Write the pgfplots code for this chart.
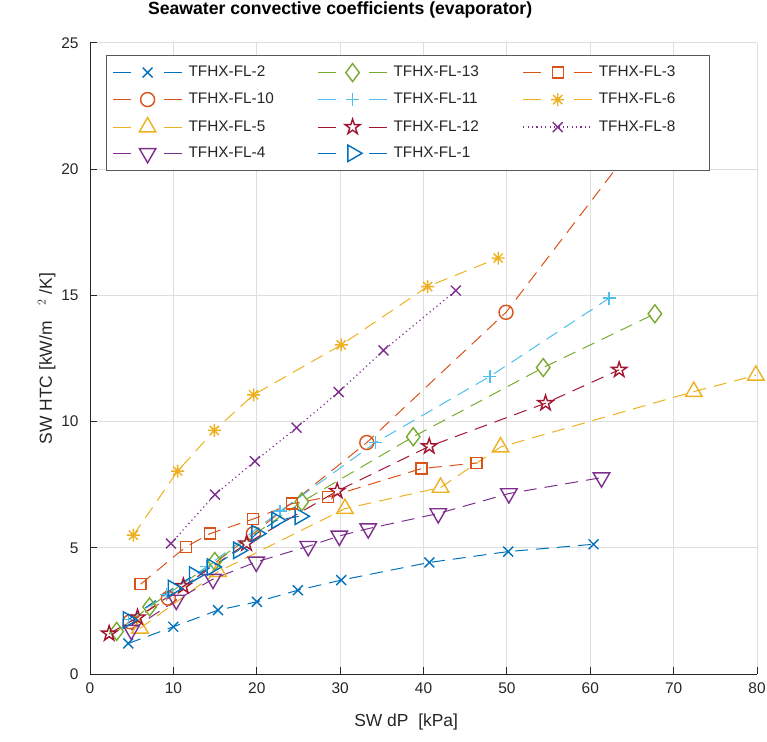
\documentclass[border=0pt]{standalone}
\usepackage{pgfplots}
\pgfplotsset{compat=1.18}
\usepackage{fontspec}
\setmainfont{Liberation Sans}
\usetikzlibrary{plotmarks}
\definecolor{c1}{rgb}{0,0.447,0.741}
\definecolor{c2}{rgb}{0.85,0.325,0.098}
\definecolor{c3}{rgb}{0.929,0.694,0.125}
\definecolor{c4}{rgb}{0.494,0.184,0.556}
\definecolor{c5}{rgb}{0.466,0.674,0.188}
\definecolor{c6}{rgb}{0.301,0.745,0.933}
\definecolor{c7}{rgb}{0.635,0.078,0.184}
\definecolor{axgray}{rgb}{0.15,0.15,0.15}
\pgfdeclareplotmark{pentagram}{%
  \pgfpathmoveto{\pgfpointpolar{90}{\pgfplotmarksize}}%
  \pgfpathlineto{\pgfpointpolar{126}{0.382\pgfplotmarksize}}%
  \pgfpathlineto{\pgfpointpolar{162}{\pgfplotmarksize}}%
  \pgfpathlineto{\pgfpointpolar{198}{0.382\pgfplotmarksize}}%
  \pgfpathlineto{\pgfpointpolar{234}{\pgfplotmarksize}}%
  \pgfpathlineto{\pgfpointpolar{270}{0.382\pgfplotmarksize}}%
  \pgfpathlineto{\pgfpointpolar{306}{\pgfplotmarksize}}%
  \pgfpathlineto{\pgfpointpolar{342}{0.382\pgfplotmarksize}}%
  \pgfpathlineto{\pgfpointpolar{18}{\pgfplotmarksize}}%
  \pgfpathlineto{\pgfpointpolar{54}{0.382\pgfplotmarksize}}%
  \pgfpathclose\pgfusepathqstroke}
\pgfdeclareplotmark{mast}{%
  \pgfpathmoveto{\pgfqpoint{-\pgfplotmarksize}{0pt}}\pgfpathlineto{\pgfqpoint{\pgfplotmarksize}{0pt}}%
  \pgfpathmoveto{\pgfqpoint{0pt}{-\pgfplotmarksize}}\pgfpathlineto{\pgfqpoint{0pt}{\pgfplotmarksize}}%
  \pgfpathmoveto{\pgfqpoint{-.7071\pgfplotmarksize}{-.7071\pgfplotmarksize}}\pgfpathlineto{\pgfqpoint{.7071\pgfplotmarksize}{.7071\pgfplotmarksize}}%
  \pgfpathmoveto{\pgfqpoint{-.7071\pgfplotmarksize}{.7071\pgfplotmarksize}}\pgfpathlineto{\pgfqpoint{.7071\pgfplotmarksize}{-.7071\pgfplotmarksize}}%
  \pgfusepathqstroke}
\pgfplotsset{
  mydash/.style={dash pattern=on 13bp off 8bp, line width=1bp},
  mydot/.style={dash pattern=on 1.2bp off 3.2bp, line width=1.2bp},
  legimg/.style={legend image code/.code={
    \draw[solid,draw=#1,line width=1bp] (0bp,0bp) -- (18bp,0bp);
    \draw[solid,draw=#1,line width=1bp] (51bp,0bp) -- (69bp,0bp);
    \draw[solid,draw=#1] plot coordinates {(34.5bp,0bp)};}},
  legimgdot/.style={legend image code/.code={
    \draw[draw=#1] (0bp,0bp) -- (69bp,0bp);
    \draw[solid,draw=#1] plot coordinates {(34.5bp,0bp)};}},
  s2/.style={color=c1, draw=c1, mydash, mark=x, mark size=7bp, mark options={solid, line width=1.4bp, draw=c1}, legimg=c1},
  s10/.style={color=c2, draw=c2, mydash, mark=o, mark size=7bp, mark options={solid, line width=1.4bp, draw=c2}, legimg=c2},
  s5/.style={color=c3, draw=c3, mydash, mark=triangle, mark size=9.5bp, mark options={solid, line width=1.4bp, draw=c3}, legimg=c3},
  s4/.style={color=c4, draw=c4, mydash, mark=triangle, mark size=9.5bp, mark options={solid, line width=1.4bp, draw=c4, rotate=180}, legimg=c4},
  s13/.style={color=c5, draw=c5, mydash, mark=diamond, mark size=9bp, mark options={solid, line width=1.4bp, draw=c5}, legimg=c5},
  s11/.style={color=c6, draw=c6, mydash, mark=+, mark size=6.5bp, mark options={solid, line width=1.4bp, draw=c6}, legimg=c6},
  s12/.style={color=c7, draw=c7, mydash, mark=pentagram, mark size=8bp, mark options={solid, line width=1.4bp, draw=c7}, legimg=c7},
  s1/.style={color=c1, draw=c1, mydash, mark=triangle, mark size=9.5bp, mark options={solid, line width=1.4bp, draw=c1, rotate=-90}, legimg=c1},
  s3/.style={color=c2, draw=c2, mydash, mark=square, mark size=5.5bp, mark options={solid, line width=1.4bp, draw=c2}, legimg=c2},
  s6/.style={color=c3, draw=c3, mydash, mark=mast, mark size=6.5bp, mark options={solid, line width=1.4bp, draw=c3}, legimg=c3},
  s8/.style={color=c4, draw=c4, mydot, mark=x, mark size=7bp, mark options={solid, line width=1.4bp, draw=c4}, legimgdot=c4},
}
\begin{document}
\begin{tikzpicture}[x=1bp,y=1bp]
\useasboundingbox (-90,-68) rectangle (677,674);
\begin{axis}[
  at={(0,0)}, anchor=south west,
  scale only axis, width=667bp, height=631bp,
  xmin=0, xmax=80, ymin=0, ymax=25,
  xtick={0,10,...,80}, ytick={0,5,...,25},
  axis x line*=bottom, axis y line*=left,
  axis line style={color=axgray, line width=1bp, -},
  grid=major, major grid style={color=black!13, line width=1bp},
  tick align=inside, major tick length=7bp,
  tick style={color=axgray, line width=1bp},
  ticklabel style={font=\fontsize{15.5}{18}\selectfont, color=axgray},
  /pgf/number format/assume math mode=true,
  xticklabel style={yshift=-5bp},
  yticklabel style={xshift=-8bp},
  xlabel={SW dP\ \ [kPa]},
  ylabel={SW HTC [kW/m\hspace{0.9em}$^{2}$\hspace{0.3em}/K]},
  label style={font=\fontsize{17.5}{20}\selectfont, color=axgray},
  xlabel style={at={(axis description cs:0.474,-0.076)}, anchor=center},
  ylabel style={at={(axis description cs:-0.065,0.5)}, anchor=center, rotate=0},
  title={Seawater convective coefficients (evaporator)},
  title style={at={(axis description cs:0.375,1.043)}, anchor=center, font=\fontsize{17.7}{20}\selectfont\bfseries},
  legend columns=3,
  legend cell align=left,
  legend style={at={(axis description cs:0.024,0.981)}, anchor=north west,
    draw=black!65, line width=1.2bp, fill=white,
    font=\fontsize{15.4}{18}\selectfont,
    inner xsep=6bp, inner ysep=8bp, row sep=11bp, column sep=0bp,
    nodes={text width=105bp, text height=11bp, text depth=3bp, inner xsep=0bp, inner ysep=0bp, align=left, text=black!85},
    /tikz/every odd column/.append style={column sep=6bp},
    /tikz/every even column/.append style={column sep=24bp}},
]
% FL-2
\addplot[s2, forget plot] coordinates {
(4.59,1.21) (9.99,1.87) (15.35,2.53) (20.02,2.86) (24.94,3.32) (30.13,3.72) (40.70,4.42) (50.16,4.85) (60.39,5.14)};
% FL-10
\addplot[s10, forget plot] coordinates {
(4.8,2.07) (9.4,3.0) (19.6,5.56) (33.2,9.17) (49.9,14.33) (66.5,21.5)};
% FL-5
\addplot[s5, forget plot] coordinates {
(6.0,1.81) (15.35,4.05) (30.58,6.55) (42.05,7.39) (49.24,8.99) (72.42,11.19) (79.86,11.83)};
% FL-4
\addplot[s4, forget plot] coordinates {
(4.95,1.74) (10.35,2.93) (14.75,3.76) (19.94,4.44) (26.18,5.06) (29.9,5.47) (33.37,5.76) (41.77,6.36) (50.24,7.15) (61.35,7.78)};
% FL-13
\addplot[s13, forget plot] coordinates {
(3.2,1.69) (7.15,2.66) (14.97,4.46) (25.4,6.82) (38.77,9.4) (54.36,12.14) (67.75,14.27)};
% FL-11
\addplot[s11, forget plot] coordinates {
(4.6,2.15) (9.2,3.15) (14.0,4.25) (22.8,6.45) (34.25,9.17) (47.96,11.79) (62.27,14.89)};
% FL-12
\addplot[s12, forget plot] coordinates {
(2.3,1.6) (5.7,2.24) (11.2,3.48) (18.78,5.17) (29.65,7.25) (40.69,9.02) (54.64,10.73) (63.47,12.05)};
% FL-1
\addplot[s1, forget plot] coordinates {
(4.56,2.14) (9.95,3.39) (12.5,3.92) (14.63,4.24) (17.79,4.9) (19.98,5.56) (22.38,6.09) (25.18,6.25)};
% FL-3
\addplot[s3, forget plot] coordinates {
(6.08,3.56) (11.51,5.04) (14.39,5.56) (19.58,6.14) (24.26,6.75) (28.58,7.01) (39.77,8.14) (46.37,8.36)};
% FL-6
\addplot[s6, forget plot] coordinates {
(5.2,5.5) (10.51,8.04) (14.91,9.65) (19.62,11.06) (30.14,13.04) (40.49,15.35) (48.96,16.48)};
% FL-8
\addplot[s8, forget plot] coordinates {
(9.71,5.17) (14.99,7.11) (19.78,8.43) (24.78,9.76) (29.82,11.17) (35.2,12.82) (43.88,15.19)};
% legend, column-major order as in the reference
\addlegendimage{s2}\addlegendentry{TFHX-FL-2}
\addlegendimage{s13}\addlegendentry{TFHX-FL-13}
\addlegendimage{s3}\addlegendentry{TFHX-FL-3}
\addlegendimage{s10}\addlegendentry{TFHX-FL-10}
\addlegendimage{s11}\addlegendentry{TFHX-FL-11}
\addlegendimage{s6}\addlegendentry{TFHX-FL-6}
\addlegendimage{s5}\addlegendentry{TFHX-FL-5}
\addlegendimage{s12}\addlegendentry{TFHX-FL-12}
\addlegendimage{s8}\addlegendentry{TFHX-FL-8}
\addlegendimage{s4}\addlegendentry{TFHX-FL-4}
\addlegendimage{s1}\addlegendentry{TFHX-FL-1}
\end{axis}
\end{tikzpicture}
\end{document}
